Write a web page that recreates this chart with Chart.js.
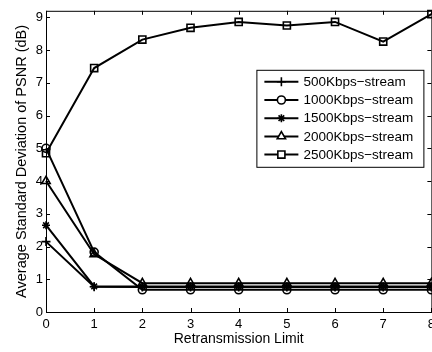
<!DOCTYPE html>
<html>
<head>
<meta charset="utf-8">
<script src="https://cdn.jsdelivr.net/npm/chart.js@4"></script>
<style>
  html, body { margin: 0; padding: 0; background: #fff; overflow: hidden; }
  #wrap { width: 440px; height: 352px; }
</style>
</head>
<body>
<div id="wrap"><canvas id="chart" width="440" height="352"></canvas></div>
<script>
// ———————————————————
//  Datos
// ———————————————————
const limits = [0, 1, 2, 3, 4, 5, 6, 7, 8];
const s500 = [2.15, 0.77, 0.76, 0.76, 0.76, 0.76, 0.76, 0.76, 0.76];
const s1000 = [5.0, 1.83, 0.68, 0.68, 0.68, 0.68, 0.68, 0.68, 0.68];
const s1500 = [2.65, 0.78, 0.78, 0.78, 0.78, 0.78, 0.78, 0.78, 0.78];
const s2000 = [4.0, 1.76, 0.88, 0.88, 0.88, 0.88, 0.88, 0.88, 0.88];
const s2500 = [4.85, 7.45, 8.32, 8.68, 8.86, 8.75, 8.86, 8.26, 9.1];
const seriesNames = ['500Kbps\u2212stream', '1000Kbps\u2212stream', '1500Kbps\u2212stream',
  '2000Kbps\u2212stream', '2500Kbps\u2212stream'];
const yTicks = [0, 1, 2, 3, 4, 5, 6, 7, 8, 9];

const FONT = "'Liberation Sans', Arial, Helvetica, sans-serif";

// estilos de marcador tipo Matlab
const markers = [
  { pointStyle: 'cross', radius: 4.5 },
  { pointStyle: 'circle', radius: 4 },
  { pointStyle: 'star', radius: 4 },
  { pointStyle: 'triangle', radius: 4.8 },
  { pointStyle: 'rect', radius: 5 }
];

function makeDataset(label, data, i) {
  return {
    label,
    data: data.map((v, k) => ({ x: limits[k], y: v })),
    borderColor: '#000',
    borderWidth: 2,
    pointStyle: markers[i].pointStyle,
    pointRadius: markers[i].radius,
    pointHoverRadius: markers[i].radius,
    pointBorderWidth: 1.6,
    pointBorderColor: '#000',
    pointBackgroundColor: 'rgba(0,0,0,0)',
    fill: false,
    tension: 0,
    clip: false
  };
}

// Caja + ticks hacia adentro, como en Matlab
const boxTicks = {
  id: 'boxTicks',
  afterDatasetsDraw(chart) {
    const { ctx, chartArea: a, scales } = chart;
    ctx.save();
    ctx.strokeStyle = '#000';
    ctx.lineWidth = 1;
    ctx.strokeRect(a.left + 0.5, a.top + 0.5, a.right - a.left, a.bottom - a.top);
    const len = 4;
    ctx.beginPath();
    limits.forEach(v => {
      const x = Math.round(scales.x.getPixelForValue(v)) + 0.5;
      ctx.moveTo(x, a.bottom); ctx.lineTo(x, a.bottom - len);
      ctx.moveTo(x, a.top); ctx.lineTo(x, a.top + len);
    });
    yTicks.forEach(v => {
      const y = Math.round(scales.y.getPixelForValue(v)) + 0.5;
      ctx.moveTo(a.left, y); ctx.lineTo(a.left + len, y);
      ctx.moveTo(a.right, y); ctx.lineTo(a.right - len, y);
    });
    ctx.stroke();
    ctx.restore();
  }
};

// Leyenda dentro del área: línea + marcador + texto
const boxLegend = {
  id: 'boxLegend',
  afterDraw(chart) {
    const { ctx, chartArea: a } = chart;
    const right = a.right - 8, top = a.top + 59;
    const w = 167, h = 97, rowH = 18.2;
    const left = right - w;
    ctx.save();
    ctx.fillStyle = '#fff';
    ctx.fillRect(left, top, w, h);
    ctx.strokeStyle = '#000';
    ctx.lineWidth = 1;
    ctx.strokeRect(left + 0.5, top + 0.5, w, h);
    ctx.font = '13.5px ' + FONT;
    ctx.textBaseline = 'middle';
    chart.data.datasets.forEach((ds, i) => {
      const y = top + 12 + i * rowH;
      ctx.strokeStyle = '#000';
      ctx.lineWidth = 2;
      ctx.beginPath();
      ctx.moveTo(left + 8, y); ctx.lineTo(left + 42, y);
      ctx.stroke();
      ctx.lineWidth = ds.pointBorderWidth;
      ctx.fillStyle = '#fff';
      Chart.helpers.drawPoint(ctx, {
        pointStyle: ds.pointStyle, radius: ds.pointRadius,
        rotation: 0, borderWidth: ds.pointBorderWidth
      }, left + 25, y);
      ctx.fillStyle = '#000';
      ctx.fillText(ds.label, left + 47, y + 0.5);
    });
    ctx.restore();
  }
};

new Chart(document.getElementById('chart'), {
  type: 'line',
  data: {
    datasets: [
      makeDataset(seriesNames[0], s500, 0),
      makeDataset(seriesNames[1], s1000, 1),
      makeDataset(seriesNames[2], s1500, 2),
      makeDataset(seriesNames[3], s2000, 3),
      makeDataset(seriesNames[4], s2500, 4)
    ]
  },
  options: {
    responsive: false,
    animation: false,
    devicePixelRatio: 1,
    layout: { padding: { top: 7, right: 8, left: 0, bottom: 0 } },
    plugins: { legend: { display: false }, tooltip: { enabled: false } },
    scales: {
      x: {
        type: 'linear',
        min: 0, max: 8,
        grid: { display: false, drawTicks: false },
        border: { display: false },
        afterBuildTicks: s => { s.ticks = limits.map(v => ({ value: v })); },
        afterFit: s => { s.height = 40; },
        ticks: { color: '#000', padding: 5, font: { family: FONT, size: 13 } },
        title: {
          display: true, text: 'Retransmission Limit', color: '#000',
          font: { family: FONT, size: 14 }, padding: { top: 0, bottom: 4 }
        }
      },
      y: {
        min: 0, max: 9.2,
        grid: { display: false, drawTicks: false },
        border: { display: false },
        afterBuildTicks: s => { s.ticks = yTicks.map(v => ({ value: v })); },
        afterFit: s => { s.width = 46; },
        ticks: { color: '#000', padding: 3, font: { family: FONT, size: 13 } },
        title: {
          display: true, text: 'Average Standard Deviation of PSNR (dB)', color: '#000',
          font: { family: FONT, size: 14.5 }, padding: { top: 13, bottom: 0 }
        }
      }
    }
  },
  plugins: [boxTicks, boxLegend]
});
</script>
</body>
</html>
